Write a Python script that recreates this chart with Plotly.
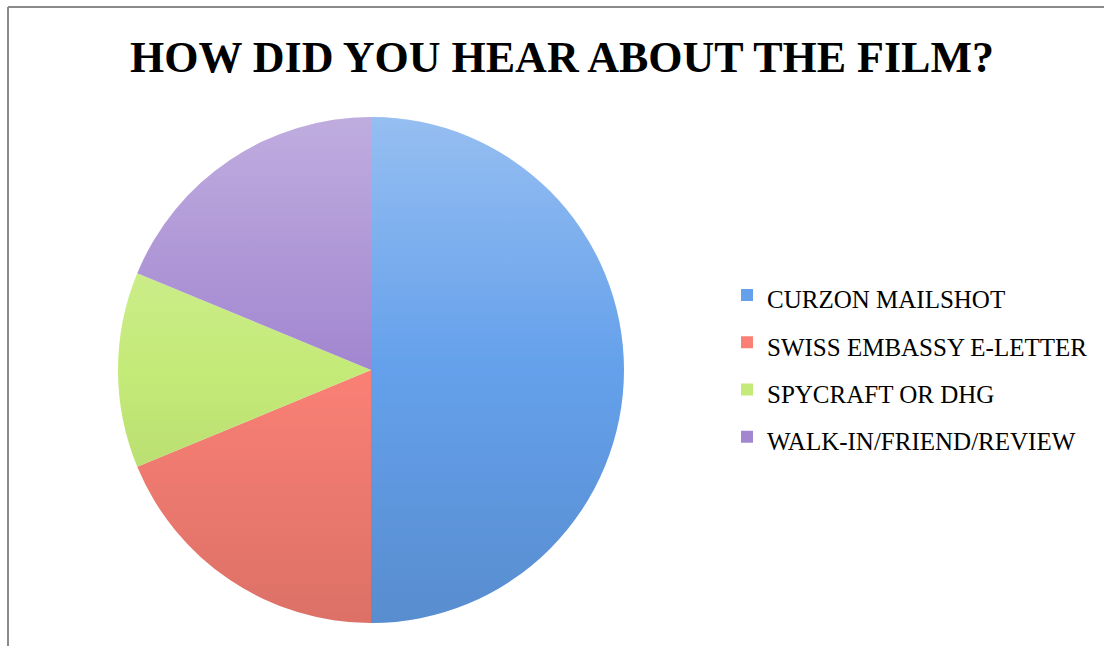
import base64
import plotly.graph_objects as go

# ---- data ----
categories = ["CURZON MAILSHOT", "SWISS EMBASSY E-LETTER", "SPYCRAFT OR DHG", "WALK-IN/FRIEND/REVIEW"]
responses = [8, 3, 2, 3]
slice_colors = ["#64A0EB", "#FA8075", "#C4EA78", "#A286D0"]
title_text = "HOW DID YOU HEAR ABOUT THE FILM?"

W, H = 1104, 646
# pie domain (pixels converted to paper fractions)
cx, cy, r = 371, 370, 253
dom_x = [(cx - r) / W, (cx + r) / W]
dom_y = [(H - cy - r) / H, (H - cy + r) / H]

fig = go.Figure(
    go.Pie(
        labels=[f'<span style="font-size:25px">{c}</span>' for c in categories],
        values=responses,
        sort=False,
        direction="clockwise",
        rotation=0,
        textinfo="none",
        hoverinfo="label+value+percent",
        marker=dict(colors=slice_colors, line=dict(width=0)),
        domain=dict(x=dom_x, y=dom_y),
    )
)

# soft vertical shading overlay, matching the pie disc
svg = (
    "<svg xmlns='http://www.w3.org/2000/svg' viewBox='0 0 100 100' preserveAspectRatio='none'>"
    "<defs><linearGradient id='g' x1='0' y1='0' x2='0' y2='1'>"
    "<stop offset='0' stop-color='white' stop-opacity='0.32'/>"
    "<stop offset='0.5' stop-color='white' stop-opacity='0'/>"
    "<stop offset='0.5' stop-color='black' stop-opacity='0'/>"
    "<stop offset='1' stop-color='black' stop-opacity='0.12'/>"
    "</linearGradient></defs>"
    "<circle cx='50' cy='50' r='50' fill='url(#g)'/></svg>"
)
src = "data:image/svg+xml;base64," + base64.b64encode(svg.encode()).decode()
fig.add_layout_image(
    dict(source=src, xref="paper", yref="paper", x=dom_x[0], y=dom_y[1],
         sizex=dom_x[1] - dom_x[0], sizey=dom_y[1] - dom_y[0],
         sizing="stretch", xanchor="left", yanchor="top", layer="above")
)

# frame lines (left and top)
fig.add_shape(type="line", xref="paper", yref="paper", x0=8 / W, x1=8 / W, y0=-0.05, y1=1 - 7 / H,
              line=dict(color="#8A8A8A", width=2))
fig.add_shape(type="line", xref="paper", yref="paper", x0=8 / W, x1=1.05, y0=1 - 7 / H, y1=1 - 7 / H,
              line=dict(color="#8A8A8A", width=2))

fig.update_layout(
    width=W, height=H,
    margin=dict(l=0, r=0, t=0, b=0),
    paper_bgcolor="white",
    plot_bgcolor="white",
    title=dict(text=f"<b>{title_text}</b>", x=562 / W, xanchor="center", xref="paper",
               y=1 - 57 / H, yanchor="middle", yref="paper",
               font=dict(family="Liberation Serif", size=44, color="black")),
    showlegend=True,
    legend=dict(x=727 / W, xanchor="left", y=1 - 366 / H, yanchor="middle",
                font=dict(family="Liberation Serif", size=34, color="black"),
                bgcolor="rgba(0,0,0,0)"),
)

fig.write_html("out.html")
